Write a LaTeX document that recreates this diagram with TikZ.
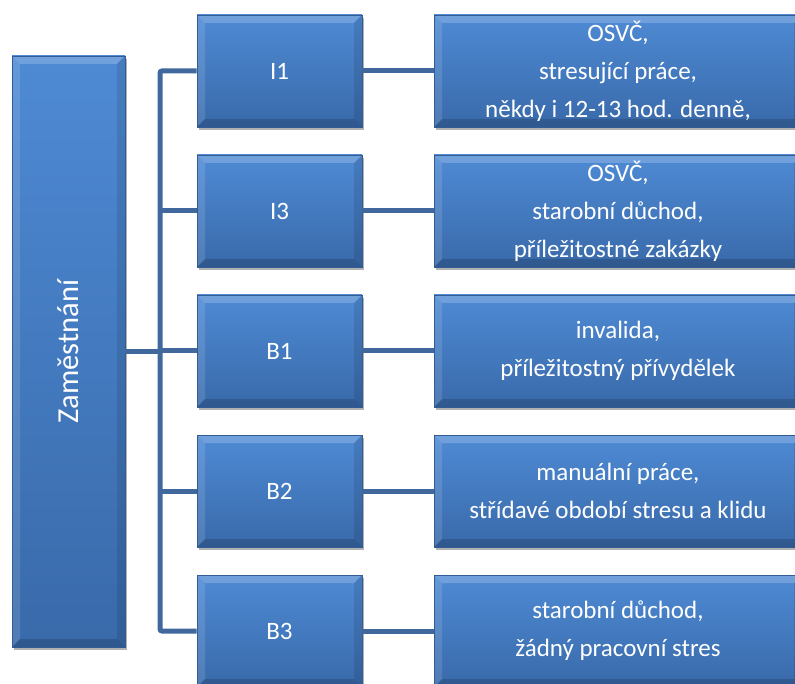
\documentclass[tikz,border=0pt]{standalone}
\usepackage{fontspec}
\setmainfont{Carlito}
\usepackage{tikz}
\usetikzlibrary{positioning,calc,shadows}
\definecolor{boxtop}{RGB}{78,138,212}
\definecolor{boxbot}{RGB}{57,106,170}
\definecolor{boxedge}{RGB}{52,92,148}
\definecolor{linkcol}{RGB}{64,104,156}

\begin{document}
\begin{tikzpicture}[
  x=1pt,y=-1pt,
  font=\fontsize{25}{38}\selectfont,
  box/.style={draw=boxedge,line width=0.6pt,top color=boxtop,bottom color=boxbot,
    text=white,align=center,inner sep=0pt,
    drop shadow={shadow xshift=2pt,shadow yshift=-3pt,opacity=.3,fill=black},
    path picture={
      \fill[white,opacity=.2] (path picture bounding box.north west) -- (path picture bounding box.north east)
        -- ++(-8pt,-8pt) -- ($(path picture bounding box.north west)+(8pt,-8pt)$) -- cycle;
      \fill[white,opacity=.12] (path picture bounding box.north west) -- ++(8pt,-8pt)
        -- ($(path picture bounding box.south west)+(8pt,8pt)$) -- (path picture bounding box.south west) -- cycle;
      \fill[black,opacity=.16] (path picture bounding box.south west) -- (path picture bounding box.south east)
        -- ++(-8pt,8pt) -- ($(path picture bounding box.south west)+(8pt,8pt)$) -- cycle;
      \fill[black,opacity=.1] (path picture bounding box.north east) -- ++(-8pt,-8pt)
        -- ($(path picture bounding box.south east)+(-8pt,8pt)$) -- (path picture bounding box.south east) -- cycle;
    }},
  lead/.style={box,minimum width=113pt,minimum height=591pt},
  code/.style={box,minimum width=165pt,minimum height=112pt},
  info/.style={box,minimum width=368pt,minimum height=112pt},
  link/.style={draw=linkcol,line width=5pt},
]
\clip (0,0) rectangle (795,684);
\fill[white] (0,0) rectangle (795,684);

\node[lead] (zam) at (68.5,351.5) {\rotatebox{90}{\fontsize{30.5}{36}\selectfont Zaměstnání}};

\node[code] (i1) at (279.5,71) {I1};
\node[code] (i3) at (279.5,211) {I3};
\node[code] (b1) at (279.5,351) {B1};
\node[code] (b2) at (279.5,491) {B2};
\node[code] (b3) at (279.5,631) {B3};

\node[info] (ti1) at (618,71) {OSVČ,\\stresující práce,\\někdy i 12-13 hod. denně,};
\node[info] (ti3) at (618,211) {OSVČ,\\starobní důchod,\\příležitostné zakázky};
\node[info] (tb1) at (618,351) {invalida,\\příležitostný přívydělek};
\node[info] (tb2) at (618,491) {manuální práce,\\střídavé období stresu a klidu};
\node[info] (tb3) at (618,631) {starobní důchod,\\žádný pracovní stres};

% spojnice
\coordinate (trunk) at (160,351);
\draw[link,rounded corners=2pt] (i1.west) -| (trunk |- b3.west) -- (b3.west);
\foreach \n in {i3,b1,b2}
  \draw[link] (trunk |- \n.west) -- (\n.west);
\draw[link] (zam.east) -- (trunk |- zam.east);
\foreach \n in {i1,i3,b1,b2,b3}
  \draw[link] (\n.east) -- (t\n.west);
\end{tikzpicture}
\end{document}
